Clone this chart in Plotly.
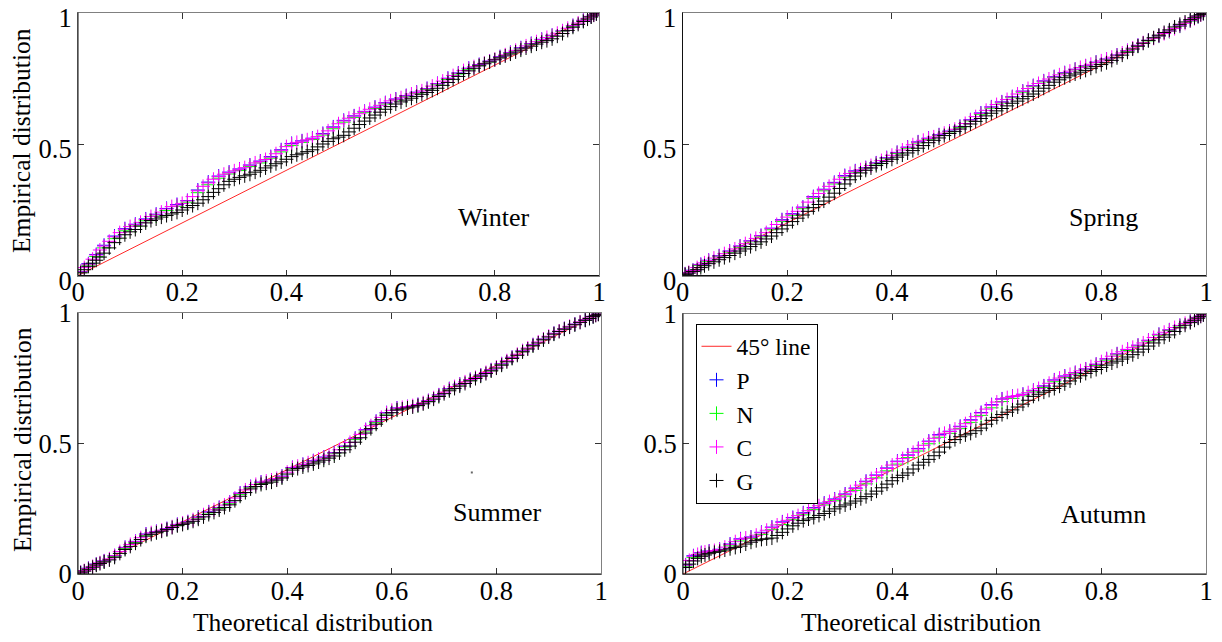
import plotly.graph_objects as go

# ---------------- data ----------------
theo = [0.005, 0.02, 0.035, 0.05, 0.07, 0.09, 0.11, 0.13, 0.15, 0.17, 0.19, 0.21, 0.23, 0.25,
        0.27, 0.29, 0.31, 0.33, 0.35, 0.37, 0.39, 0.41, 0.43, 0.45, 0.47, 0.49, 0.51, 0.53,
        0.55, 0.57, 0.59, 0.61, 0.63, 0.65, 0.67, 0.69, 0.71, 0.73, 0.75, 0.77, 0.79, 0.81,
        0.83, 0.85, 0.87, 0.89, 0.91, 0.93, 0.95, 0.97, 0.985, 0.995]
theo_mid = [0.012, 0.028, 0.042, 0.06, 0.08, 0.10, 0.12, 0.14, 0.16, 0.18, 0.20, 0.22, 0.24, 0.26,
            0.28, 0.30, 0.32, 0.34, 0.36, 0.38, 0.40, 0.42, 0.44, 0.46, 0.48, 0.50, 0.52, 0.54,
            0.56, 0.58, 0.60, 0.62, 0.64, 0.66, 0.68, 0.70, 0.72, 0.74, 0.76, 0.78, 0.80, 0.82,
            0.84, 0.86, 0.88, 0.90, 0.92, 0.94, 0.96, 0.978, 0.99]

diag = [0, 1]

winter_P = [0.015, 0.045, 0.08, 0.115, 0.150, 0.178, 0.195, 0.215, 0.233, 0.255, 0.27, 0.285, 0.325, 0.355,
            0.378, 0.393, 0.405, 0.42, 0.435, 0.452, 0.478, 0.502, 0.512, 0.522, 0.54, 0.565, 0.59, 0.607,
            0.624, 0.64, 0.657, 0.671, 0.684, 0.697, 0.711, 0.73, 0.75, 0.77, 0.788, 0.802, 0.815, 0.832,
            0.848, 0.866, 0.882, 0.898, 0.913, 0.93, 0.95, 0.97, 0.985, 0.996]
winter_N = [0.012, 0.04, 0.072, 0.105, 0.14, 0.17, 0.188, 0.208, 0.226, 0.247, 0.263, 0.279, 0.315, 0.345,
            0.37, 0.386, 0.399, 0.414, 0.428, 0.446, 0.47, 0.494, 0.506, 0.517, 0.534, 0.558, 0.583, 0.601,
            0.619, 0.635, 0.652, 0.667, 0.68, 0.693, 0.707, 0.725, 0.745, 0.766, 0.784, 0.799, 0.812, 0.829,
            0.845, 0.863, 0.879, 0.895, 0.911, 0.928, 0.948, 0.968, 0.984, 0.996]
winter_C = [0.014, 0.043, 0.078, 0.112, 0.147, 0.176, 0.193, 0.213, 0.231, 0.253, 0.268, 0.284, 0.322, 0.352,
            0.376, 0.391, 0.404, 0.419, 0.434, 0.45, 0.476, 0.5, 0.511, 0.521, 0.538, 0.563, 0.588, 0.606,
            0.623, 0.639, 0.656, 0.67, 0.683, 0.696, 0.71, 0.729, 0.749, 0.769, 0.787, 0.801, 0.815, 0.831,
            0.847, 0.865, 0.881, 0.897, 0.913, 0.93, 0.95, 0.97, 0.985, 0.996]
winter_C_mid = [0.03, 0.062, 0.097, 0.13, 0.163, 0.186, 0.202, 0.224, 0.241, 0.262, 0.274, 0.3, 0.339, 0.366,
                0.385, 0.398, 0.41, 0.428, 0.441, 0.463, 0.49, 0.506, 0.516, 0.528, 0.55, 0.577, 0.598, 0.615,
                0.632, 0.647, 0.664, 0.676, 0.69, 0.702, 0.72, 0.739, 0.76, 0.779, 0.794, 0.807, 0.822, 0.839,
                0.856, 0.873, 0.889, 0.905, 0.921, 0.94, 0.96, 0.978, 0.991]
winter_G = [0.01, 0.035, 0.058, 0.085, 0.125, 0.155, 0.175, 0.2, 0.215, 0.228, 0.24, 0.258, 0.275, 0.3,
            0.33, 0.358, 0.373, 0.385, 0.4, 0.417, 0.432, 0.452, 0.465, 0.478, 0.5, 0.52, 0.533, 0.56,
            0.587, 0.61, 0.632, 0.652, 0.667, 0.681, 0.696, 0.712, 0.734, 0.757, 0.778, 0.797, 0.812, 0.827,
            0.842, 0.857, 0.872, 0.887, 0.9, 0.92, 0.944, 0.966, 0.983, 0.995]
winter_G_mid = [0.022, 0.047, 0.07, 0.105, 0.142, 0.166, 0.188, 0.209, 0.222, 0.234, 0.249, 0.266, 0.288, 0.316,
                0.345, 0.366, 0.379, 0.393, 0.409, 0.425, 0.442, 0.459, 0.471, 0.489, 0.51, 0.526, 0.546, 0.574,
                0.599, 0.621, 0.642, 0.66, 0.674, 0.689, 0.704, 0.723, 0.746, 0.768, 0.788, 0.805, 0.82, 0.835,
                0.85, 0.865, 0.88, 0.893, 0.91, 0.932, 0.955, 0.975, 0.99]

spring_P = [0.006, 0.02, 0.042, 0.058, 0.075, 0.093, 0.112, 0.132, 0.152, 0.18, 0.212, 0.235, 0.26, 0.3,
            0.328, 0.354, 0.38, 0.398, 0.41, 0.428, 0.448, 0.468, 0.488, 0.508, 0.522, 0.535, 0.549, 0.567,
            0.592, 0.618, 0.641, 0.66, 0.68, 0.701, 0.722, 0.74, 0.756, 0.771, 0.784, 0.797, 0.811, 0.823,
            0.838, 0.855, 0.875, 0.894, 0.911, 0.929, 0.949, 0.969, 0.985, 0.997]
spring_N = [0.005, 0.018, 0.038, 0.054, 0.071, 0.089, 0.108, 0.128, 0.147, 0.174, 0.205, 0.229, 0.254, 0.293,
            0.322, 0.348, 0.374, 0.393, 0.406, 0.424, 0.444, 0.464, 0.484, 0.504, 0.518, 0.532, 0.546, 0.563,
            0.588, 0.613, 0.636, 0.656, 0.676, 0.697, 0.718, 0.736, 0.753, 0.768, 0.782, 0.795, 0.809, 0.821,
            0.836, 0.853, 0.873, 0.892, 0.91, 0.928, 0.948, 0.968, 0.984, 0.997]
spring_C = [0.006, 0.019, 0.041, 0.057, 0.074, 0.092, 0.111, 0.131, 0.151, 0.178, 0.21, 0.233, 0.258, 0.298,
            0.326, 0.352, 0.378, 0.396, 0.409, 0.427, 0.447, 0.467, 0.487, 0.507, 0.521, 0.534, 0.548, 0.566,
            0.591, 0.616, 0.64, 0.659, 0.679, 0.7, 0.721, 0.739, 0.755, 0.77, 0.784, 0.797, 0.81, 0.823,
            0.838, 0.855, 0.875, 0.894, 0.911, 0.929, 0.949, 0.969, 0.985, 0.997]
spring_C_mid = [0.012, 0.03, 0.048, 0.066, 0.083, 0.101, 0.121, 0.141, 0.163, 0.194, 0.222, 0.244, 0.279, 0.312,
                0.339, 0.366, 0.388, 0.402, 0.418, 0.437, 0.457, 0.477, 0.497, 0.514, 0.527, 0.541, 0.556, 0.578,
                0.604, 0.628, 0.65, 0.669, 0.69, 0.711, 0.73, 0.747, 0.763, 0.777, 0.791, 0.803, 0.816, 0.83,
                0.846, 0.865, 0.885, 0.902, 0.92, 0.939, 0.959, 0.977, 0.991]
spring_G = [0.003, 0.015, 0.03, 0.045, 0.06, 0.076, 0.093, 0.11, 0.128, 0.15, 0.177, 0.205, 0.23, 0.258,
            0.283, 0.313, 0.348, 0.378, 0.4, 0.418, 0.434, 0.45, 0.466, 0.484, 0.505, 0.523, 0.54, 0.557,
            0.576, 0.597, 0.617, 0.635, 0.655, 0.672, 0.69, 0.712, 0.735, 0.752, 0.766, 0.78, 0.795, 0.809,
            0.828, 0.849, 0.872, 0.894, 0.914, 0.934, 0.955, 0.973, 0.987, 0.997]
spring_G_mid = [0.009, 0.022, 0.037, 0.052, 0.068, 0.085, 0.101, 0.119, 0.139, 0.163, 0.191, 0.218, 0.244, 0.27,
                0.298, 0.331, 0.364, 0.39, 0.409, 0.426, 0.442, 0.458, 0.475, 0.494, 0.514, 0.532, 0.548, 0.566,
                0.586, 0.607, 0.626, 0.645, 0.663, 0.681, 0.701, 0.723, 0.744, 0.759, 0.773, 0.788, 0.802, 0.818,
                0.838, 0.861, 0.883, 0.904, 0.924, 0.945, 0.964, 0.98, 0.992]

summer_P = [0.006, 0.022, 0.038, 0.05, 0.07, 0.102, 0.125, 0.153, 0.163, 0.174, 0.19, 0.2, 0.218, 0.238,
            0.255, 0.275, 0.31, 0.335, 0.352, 0.36, 0.375, 0.408, 0.42, 0.434, 0.448, 0.465, 0.49, 0.52,
            0.553, 0.585, 0.618, 0.636, 0.641, 0.649, 0.664, 0.686, 0.71, 0.727, 0.745, 0.762, 0.782, 0.805,
            0.83, 0.855, 0.878, 0.9, 0.922, 0.94, 0.957, 0.974, 0.987, 0.996]
summer_N = [0.005, 0.02, 0.036, 0.048, 0.068, 0.098, 0.121, 0.149, 0.16, 0.171, 0.187, 0.197, 0.215, 0.234,
            0.251, 0.271, 0.305, 0.331, 0.348, 0.357, 0.372, 0.404, 0.417, 0.43, 0.444, 0.461, 0.486, 0.515,
            0.548, 0.58, 0.613, 0.632, 0.638, 0.646, 0.661, 0.683, 0.707, 0.725, 0.743, 0.76, 0.78, 0.803,
            0.828, 0.853, 0.876, 0.899, 0.921, 0.939, 0.956, 0.973, 0.986, 0.996]
summer_C = [0.006, 0.021, 0.037, 0.05, 0.07, 0.101, 0.124, 0.152, 0.162, 0.173, 0.189, 0.2, 0.217, 0.237,
            0.254, 0.274, 0.309, 0.334, 0.351, 0.36, 0.374, 0.407, 0.419, 0.433, 0.447, 0.464, 0.489, 0.519,
            0.552, 0.584, 0.617, 0.635, 0.641, 0.649, 0.664, 0.686, 0.709, 0.727, 0.745, 0.762, 0.782, 0.805,
            0.83, 0.855, 0.878, 0.9, 0.922, 0.94, 0.957, 0.974, 0.987, 0.996]
summer_C_mid = [0.013, 0.029, 0.043, 0.058, 0.086, 0.113, 0.139, 0.158, 0.168, 0.181, 0.195, 0.208, 0.227, 0.246,
                0.264, 0.291, 0.322, 0.343, 0.356, 0.366, 0.39, 0.413, 0.426, 0.44, 0.455, 0.476, 0.504, 0.535,
                0.568, 0.6, 0.627, 0.638, 0.645, 0.656, 0.675, 0.697, 0.718, 0.736, 0.753, 0.772, 0.793, 0.817,
                0.842, 0.866, 0.889, 0.911, 0.931, 0.949, 0.966, 0.981, 0.992]
summer_G = [0.004, 0.018, 0.034, 0.046, 0.064, 0.094, 0.118, 0.145, 0.158, 0.17, 0.185, 0.195, 0.21, 0.228,
            0.245, 0.265, 0.298, 0.326, 0.343, 0.352, 0.368, 0.398, 0.41, 0.422, 0.436, 0.452, 0.476, 0.505,
            0.54, 0.574, 0.608, 0.628, 0.636, 0.645, 0.66, 0.68, 0.702, 0.72, 0.74, 0.758, 0.778, 0.8,
            0.826, 0.851, 0.874, 0.897, 0.919, 0.938, 0.955, 0.972, 0.986, 0.995]
summer_G_mid = [0.011, 0.026, 0.04, 0.054, 0.079, 0.106, 0.132, 0.152, 0.164, 0.178, 0.19, 0.202, 0.219, 0.236,
                0.255, 0.281, 0.312, 0.335, 0.348, 0.36, 0.383, 0.404, 0.416, 0.429, 0.444, 0.464, 0.49, 0.522,
                0.557, 0.591, 0.618, 0.632, 0.64, 0.652, 0.67, 0.691, 0.711, 0.73, 0.749, 0.768, 0.789, 0.813,
                0.838, 0.862, 0.885, 0.908, 0.929, 0.946, 0.964, 0.979, 0.991]
summer_stray_x = [0.753]
summer_stray_y = [0.389]

autumn_P = [0.035, 0.07, 0.082, 0.088, 0.095, 0.115, 0.135, 0.142, 0.16, 0.18, 0.2, 0.217, 0.235, 0.255,
            0.272, 0.288, 0.307, 0.33, 0.356, 0.38, 0.407, 0.433, 0.457, 0.482, 0.51, 0.535, 0.548, 0.567,
            0.592, 0.62, 0.65, 0.672, 0.682, 0.69, 0.705, 0.722, 0.745, 0.76, 0.773, 0.787, 0.805, 0.826,
            0.845, 0.862, 0.878, 0.897, 0.92, 0.937, 0.954, 0.97, 0.985, 0.996]
autumn_N = [0.03, 0.064, 0.077, 0.084, 0.091, 0.108, 0.127, 0.136, 0.152, 0.17, 0.19, 0.208, 0.227, 0.247,
            0.265, 0.281, 0.299, 0.321, 0.346, 0.369, 0.396, 0.422, 0.447, 0.472, 0.5, 0.525, 0.54, 0.558,
            0.582, 0.609, 0.638, 0.662, 0.674, 0.684, 0.699, 0.716, 0.738, 0.754, 0.768, 0.783, 0.8, 0.821,
            0.841, 0.858, 0.875, 0.894, 0.917, 0.935, 0.952, 0.969, 0.984, 0.996]
autumn_C = [0.034, 0.068, 0.081, 0.087, 0.094, 0.113, 0.133, 0.141, 0.158, 0.178, 0.198, 0.215, 0.233, 0.253,
            0.27, 0.286, 0.305, 0.328, 0.354, 0.378, 0.405, 0.431, 0.455, 0.48, 0.508, 0.533, 0.547, 0.565,
            0.59, 0.618, 0.648, 0.671, 0.681, 0.689, 0.704, 0.721, 0.744, 0.759, 0.773, 0.787, 0.805, 0.826,
            0.845, 0.862, 0.878, 0.897, 0.919, 0.937, 0.954, 0.97, 0.985, 0.996]
autumn_C_mid = [0.052, 0.075, 0.084, 0.09, 0.103, 0.124, 0.138, 0.149, 0.168, 0.188, 0.206, 0.224, 0.243, 0.262,
                0.278, 0.295, 0.316, 0.341, 0.366, 0.391, 0.418, 0.443, 0.467, 0.494, 0.521, 0.54, 0.556, 0.577,
                0.604, 0.633, 0.66, 0.677, 0.685, 0.696, 0.712, 0.732, 0.752, 0.766, 0.78, 0.796, 0.815, 0.836,
                0.853, 0.87, 0.887, 0.908, 0.928, 0.946, 0.962, 0.978, 0.991]
autumn_G = [0.025, 0.05, 0.068, 0.078, 0.087, 0.097, 0.107, 0.122, 0.133, 0.138, 0.16, 0.185, 0.205, 0.217,
            0.232, 0.25, 0.265, 0.28, 0.297, 0.318, 0.345, 0.37, 0.388, 0.418, 0.44, 0.468, 0.505, 0.527,
            0.54, 0.56, 0.59, 0.612, 0.63, 0.652, 0.682, 0.698, 0.712, 0.73, 0.752, 0.77, 0.785, 0.802,
            0.817, 0.833, 0.852, 0.875, 0.899, 0.918, 0.945, 0.965, 0.982, 0.995]
autumn_G_mid = [0.038, 0.06, 0.073, 0.083, 0.092, 0.102, 0.115, 0.128, 0.135, 0.148, 0.173, 0.195, 0.211, 0.225,
                0.241, 0.258, 0.272, 0.289, 0.307, 0.331, 0.358, 0.379, 0.403, 0.429, 0.454, 0.487, 0.516, 0.534,
                0.55, 0.575, 0.601, 0.621, 0.641, 0.667, 0.69, 0.705, 0.721, 0.741, 0.761, 0.778, 0.793, 0.81,
                0.825, 0.842, 0.863, 0.887, 0.909, 0.931, 0.955, 0.974, 0.989]

seasons = ["Winter", "Spring", "Summer", "Autumn"]
series_names = ["P", "N", "C", "G"]
series_colors = ["#0000ff", "#00ff00", "#ff00ff", "#000000"]
x_tickvals = [0, 0.2, 0.4, 0.6, 0.8, 1]
x_ticktext = ["0", "0.2", "0.4", "0.6", "0.8", "1"]
y_tickvals = [0, 0.5, 1]
y_ticktext = ["0", "0.5", "1"]

# per season: (x, y) for P, N, C, G
panel_data = {
    "Winter": [(theo, winter_P), (theo, winter_N),
               (theo + theo_mid, winter_C + winter_C_mid), (theo + theo_mid, winter_G + winter_G_mid)],
    "Spring": [(theo, spring_P), (theo, spring_N),
               (theo + theo_mid, spring_C + spring_C_mid), (theo + theo_mid, spring_G + spring_G_mid)],
    "Summer": [(theo, summer_P), (theo, summer_N),
               (theo + theo_mid, summer_C + summer_C_mid), (theo + theo_mid, summer_G + summer_G_mid)],
    "Autumn": [(theo, autumn_P), (theo, autumn_N),
               (theo + theo_mid, autumn_C + autumn_C_mid), (theo + theo_mid, autumn_G + autumn_G_mid)],
}

# ---------------- layout geometry ----------------
W, H = 1222, 642
FONT = "Liberation Serif, Times New Roman, DejaVu Serif, serif"
FS_TICK = 26.5
FS_LABEL = 26
FS_TITLE = 25.5

panels = [  # (left, right, top, bottom) in px
    (78, 599, 12.5, 275.5),
    (682.5, 1206, 12.5, 275.5),
    (78, 601, 313, 574),
    (683, 1206, 313.5, 574),
]
label_pos = [(493, 217), (1103, 218), (497, 512), (1103, 514)]

fig = go.Figure()

for i, season in enumerate(seasons):
    idx = "" if i == 0 else str(i + 1)
    xa, ya = "x" + idx, "y" + idx
    show = (i == 3)
    fig.add_trace(go.Scatter(
        x=diag, y=diag, mode="lines", name="45\u00b0 line",
        line=dict(color="rgb(255,40,40)", width=1),
        xaxis=xa, yaxis=ya, showlegend=show, hoverinfo="skip"))
    for name, col, (xv, yv) in zip(series_names, series_colors, panel_data[season]):
        fig.add_trace(go.Scatter(
            x=xv, y=yv, mode="markers", name=name,
            marker=dict(symbol="cross-thin", size=10, color=col,
                        line=dict(color=col, width=1)),
            xaxis=xa, yaxis=ya, showlegend=show))
    if season == "Summer":
        fig.add_trace(go.Scatter(
            x=summer_stray_x, y=summer_stray_y, mode="markers",
            marker=dict(symbol="square", size=2, color="#666666"),
            xaxis=xa, yaxis=ya, showlegend=False, hoverinfo="skip"))

layout = dict(
    width=W, height=H,
    margin=dict(l=0, r=0, t=0, b=0, autoexpand=False),
    paper_bgcolor="white", plot_bgcolor="white",
    font=dict(family=FONT, size=FS_LABEL, color="black"),
    showlegend=True,
    legend=dict(
        x=695.5 / W, y=1 - 323.5 / H, xanchor="left", yanchor="top",
        bgcolor="white", bordercolor="black", borderwidth=1,
        font=dict(family=FONT, size=23.5, color="black"),
        tracegroupgap=0, itemsizing="trace",
    ),
)

shapes = []
annotations = []
for i, (l, r, t, b) in enumerate(panels):
    idx = "" if i == 0 else str(i + 1)
    axis_common = dict(
        range=[0, 1], showgrid=False, zeroline=False, showline=True,
        linecolor="#808080", linewidth=1, mirror="ticks", automargin=False,
        ticks="inside", ticklen=6, tickcolor="#333333", tickwidth=1,
        ticklabeloverflow="allow",
        tickfont=dict(family=FONT, size=FS_TICK, color="black"),
    )
    layout["xaxis" + idx] = dict(
        axis_common, domain=[l / W, r / W], anchor="y" + idx,
        tickvals=x_tickvals, ticktext=x_ticktext, ticklabelstandoff=-7)
    layout["yaxis" + idx] = dict(
        axis_common, domain=[1 - b / H, 1 - t / H], anchor="x" + idx,
        tickvals=y_tickvals, ticktext=y_ticktext,
        ticklabelshift=(5 if i < 2 else 0))
    xr, yr = "x" + idx + " domain", "y" + idx + " domain"
    shapes.append(dict(type="line", xref=xr, yref=yr, x0=0, x1=1, y0=0, y1=0,
                       line=dict(color="#111111", width=1), layer="above"))
    shapes.append(dict(type="line", xref=xr, yref=yr, x0=0, x1=0, y0=0, y1=1,
                       line=dict(color="#111111", width=1), layer="above"))
    lx, ly = label_pos[i]
    annotations.append(dict(text=seasons[i], x=lx / W, y=1 - ly / H, xref="paper", yref="paper",
                            showarrow=False, xanchor="center", yanchor="middle",
                            font=dict(family=FONT, size=FS_LABEL, color="black")))

# axis titles
for cy in (141, 440):
    annotations.append(dict(text="Empirical distribution", x=22 / W, y=1 - cy / H,
                            xref="paper", yref="paper", showarrow=False, textangle=-90,
                            xanchor="center", yanchor="middle",
                            font=dict(family=FONT, size=FS_TITLE, color="black")))
for cx in (313, 921):
    annotations.append(dict(text="Theoretical distribution", x=cx / W, y=1 - 622 / H,
                            xref="paper", yref="paper", showarrow=False,
                            xanchor="center", yanchor="middle",
                            font=dict(family=FONT, size=FS_TITLE, color="black")))

layout["shapes"] = shapes
layout["annotations"] = annotations
fig.update_layout(**layout)

fig.write_html("out.html")
